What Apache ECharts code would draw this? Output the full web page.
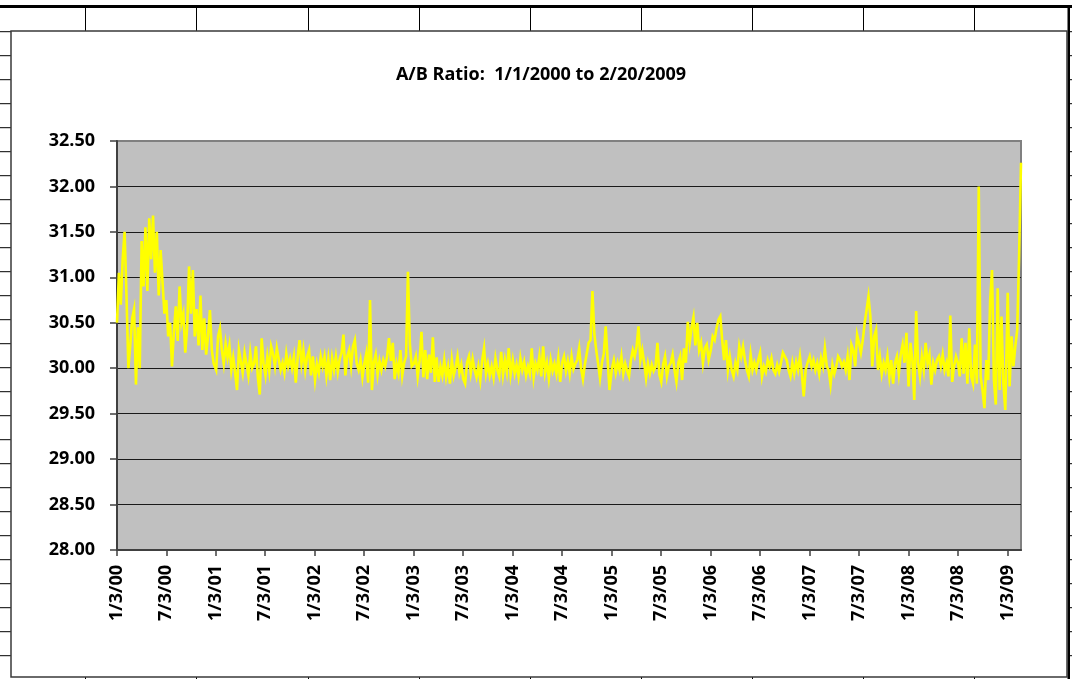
<!DOCTYPE html>
<html>
<head>
<meta charset="utf-8">
<title>A/B Ratio</title>
<script src="https://cdn.jsdelivr.net/npm/echarts@6/dist/echarts.min.js"></script>
<style>
  html, body { margin: 0; padding: 0; background: #fff; }
  #chart { width: 1072px; height: 679px; }
</style>
</head>
<body>
<div id="chart"></div>
<script>
// A/B ratio, one value per week (first value = Jan 3 of each year)
const ratio2000 = [30.50, 31.05, 30.70, 31.20, 31.50, 30.80, 30.00, 30.25, 30.55, 30.65,
  29.82, 30.45, 30.00, 31.40, 30.90, 31.55, 30.85, 31.65, 31.20, 31.68,
  31.05, 31.50, 30.80, 31.30, 30.95, 30.60, 30.75, 30.35, 30.50, 30.02,
  30.40, 30.68, 30.30, 30.90, 30.50, 30.60, 30.17, 30.45, 31.12, 30.60,
  31.08, 30.35, 30.65, 30.25, 30.80, 30.20, 30.55, 30.15, 30.35, 30.64,
  30.20, 30.05];
const ratio2001 = [29.98, 30.35, 30.44, 30.20, 30.05, 30.27, 30.12, 30.25, 29.98, 30.12,
  29.95, 29.76, 30.20, 30.18, 29.95, 30.17, 30.05, 29.92, 30.17, 30.00,
  30.05, 30.24, 29.90, 29.71, 30.33, 30.05, 29.92, 30.13, 29.97, 30.24,
  30.16, 30.02, 30.22, 30.10, 29.98, 30.06, 29.95, 30.16, 30.02, 30.11,
  30.00, 30.13, 29.84, 30.12, 30.31, 30.05, 30.20, 29.98, 30.13, 30.20,
  29.92, 30.13];
const ratio2002 = [29.87, 30.05, 29.95, 30.13, 30.02, 30.13, 29.92, 30.10, 29.87, 30.11,
  29.98, 30.13, 29.96, 30.10, 30.17, 30.37, 29.92, 30.13, 30.20, 30.02,
  30.24, 30.31, 30.05, 29.98, 30.09, 29.90, 30.05, 30.16, 29.84, 30.75,
  29.76, 30.06, 30.15, 29.93, 30.08, 29.98, 30.09, 30.02, 30.13, 30.33,
  30.08, 30.28, 29.88, 30.05, 29.95, 30.20, 29.92, 30.06, 30.13, 31.06,
  30.27, 30.02];
const ratio2003 = [30.05, 30.13, 29.91, 30.08, 30.40, 29.90, 30.20, 29.88, 30.15, 29.95,
  30.34, 29.85, 30.12, 29.85, 30.02, 29.92, 30.09, 29.90, 30.02, 29.83,
  30.09, 29.92, 30.01, 30.13, 29.95, 30.04, 29.88, 29.83, 30.06, 30.13,
  29.95, 30.10, 29.98, 29.90, 30.02, 29.87, 30.09, 30.22, 29.94, 30.05,
  29.92, 30.02, 29.90, 30.11, 29.98, 29.91, 30.18, 29.93, 30.09, 29.96,
  30.22, 29.93];
const ratio2004 = [30.09, 29.94, 30.04, 29.91, 30.11, 29.98, 30.07, 29.92, 30.02, 29.94,
  30.22, 29.90, 30.05, 29.98, 30.13, 29.91, 30.24, 29.95, 30.06, 29.89,
  30.09, 29.97, 30.05, 29.94, 30.11, 29.85, 30.06, 30.13, 29.97, 30.08,
  29.94, 30.13, 29.99, 30.05, 30.09, 30.22, 30.00, 29.88, 30.04, 30.06,
  30.28, 30.31, 30.85, 30.38, 30.20, 30.05, 29.89, 30.06, 30.16, 30.46,
  30.10, 29.76];
const ratio2005 = [30.00, 30.09, 29.95, 30.06, 29.98, 30.13, 29.94, 30.05, 29.97, 29.91,
  30.09, 30.20, 30.13, 30.24, 30.46, 30.09, 30.20, 30.06, 29.89, 30.05,
  29.94, 30.04, 29.97, 30.02, 30.28, 29.93, 29.85, 30.04, 30.13, 29.91,
  30.02, 30.06, 30.15, 29.98, 29.85, 30.06, 30.13, 29.87, 30.22, 30.06,
  30.51, 30.28, 30.45, 30.56, 30.25, 30.50, 30.20, 30.28, 30.06, 30.22,
  30.26, 30.09];
const ratio2006 = [30.20, 30.35, 30.31, 30.44, 30.53, 30.57, 30.31, 30.09, 30.31, 29.98,
  30.13, 29.98, 29.91, 30.06, 29.98, 30.24, 30.13, 30.24, 30.09, 29.98,
  29.91, 30.15, 29.98, 30.06, 29.98, 30.09, 30.17, 29.91, 30.02, 29.96,
  30.09, 30.02, 30.11, 29.98, 29.94, 30.04, 29.96, 30.06, 30.17, 30.18,
  30.09, 29.98, 29.91, 30.06, 29.94, 30.07, 29.98, 30.13, 29.94, 29.69,
  29.98, 30.06];
const ratio2007 = [30.13, 30.02, 30.09, 29.98, 30.06, 29.94, 30.11, 30.02, 30.22, 30.02,
  29.98, 29.82, 30.04, 29.94, 30.02, 30.13, 30.09, 30.02, 30.07, 29.98,
  30.13, 29.87, 30.26, 30.20, 30.02, 30.37, 30.28, 30.17, 30.31, 30.50,
  30.64, 30.79, 30.57, 30.02, 30.35, 30.42, 29.98, 30.13, 29.94, 30.06,
  29.98, 30.13, 29.91, 30.09, 29.83, 30.06, 30.13, 29.94, 30.15, 30.26,
  30.06, 30.39];
const ratio2008 = [29.80, 30.28, 30.09, 29.65, 30.63, 30.06, 29.91, 30.13, 29.98, 30.28,
  30.06, 30.15, 29.82, 30.06, 29.98, 30.09, 30.13, 30.02, 30.15, 29.98,
  30.06, 29.91, 30.58, 29.85, 30.02, 30.13, 30.06, 29.91, 30.33, 29.94,
  30.28, 29.83, 30.44, 29.91, 29.83, 30.26, 29.83, 32.00, 29.91, 29.76,
  29.56, 30.09, 29.87, 30.74, 31.08, 29.87, 29.60, 30.88, 29.76, 30.57,
  29.83, 29.54];
const ratio2009 = [30.83, 29.80, 30.35, 30.02, 30.24, 30.42, 31.23, 32.26];

const tickDates = ['2000-01-03', '2000-07-03', '2001-01-03', '2001-07-03', '2002-01-03',
  '2002-07-03', '2003-01-03', '2003-07-03', '2004-01-03', '2004-07-03', '2005-01-03',
  '2005-07-03', '2006-01-03', '2006-07-03', '2007-01-03', '2007-07-03', '2008-01-03',
  '2008-07-03', '2009-01-03'];
const yTicks = [28, 28.5, 29, 29.5, 30, 30.5, 31, 31.5, 32, 32.5];

const DAY = 86400000;
const START = Date.parse('2000-01-03');
const END = Date.parse('2009-02-21');
const dayOf = ts => Math.round((ts - START) / DAY);

const years = [
  [2000, ratio2000], [2001, ratio2001], [2002, ratio2002], [2003, ratio2003],
  [2004, ratio2004], [2005, ratio2005], [2006, ratio2006], [2007, ratio2007],
  [2008, ratio2008], [2009, ratio2009]
];
// x = days since 1/3/2000
const points = [];
years.forEach(([yr, vals]) => {
  vals.forEach((v, i) => points.push([dayOf(Date.UTC(yr, 0, 3 + 7 * i)), v]));
});
const tickDays = tickDates.map(d => dayOf(Date.parse(d)));

function fmtDay(n) {
  const d = new Date(START + n * DAY);
  return (d.getUTCMonth() + 1) + '/' + d.getUTCDate() + '/' + String(d.getUTCFullYear()).slice(2);
}

const FONT = '"Open Sans", "Liberation Sans", sans-serif';

// spreadsheet cells behind the chart object
const colXs = [85, 196, 308, 419, 530, 641, 752, 863, 974];
const rowYs = [];
for (let k = 0; k <= 27; k++) rowYs.push(31.7 + 24 * k);
const sheet = [];
sheet.push({ type: 'rect', shape: { x: 0, y: 5, width: 1072, height: 3 }, style: { fill: '#000' } });
sheet.push({ type: 'rect', shape: { x: 1067.5, y: 5, width: 2.5, height: 674 }, style: { fill: '#000' } });
colXs.forEach(x => {
  sheet.push({ type: 'line', shape: { x1: x + 0.5, y1: 8, x2: x + 0.5, y2: 31 }, style: { stroke: '#000', lineWidth: 1 } });
  sheet.push({ type: 'line', shape: { x1: x + 0.5, y1: 677, x2: x + 0.5, y2: 679 }, style: { stroke: '#000', lineWidth: 1 } });
});
rowYs.forEach(y => {
  sheet.push({ type: 'line', shape: { x1: 0, y1: y, x2: 11, y2: y }, style: { stroke: '#000', lineWidth: 1 } });
  sheet.push({ type: 'line', shape: { x1: 1069, y1: y, x2: 1072, y2: y }, style: { stroke: '#000', lineWidth: 1 } });
});
sheet.push({ type: 'rect', shape: { x: 11, y: 31, width: 1056, height: 646 },
  style: { fill: 'none', stroke: '#3a3a3a', lineWidth: 1.5 } });

const chart = echarts.init(document.getElementById('chart'));
chart.setOption({
  animation: false,
  backgroundColor: '#fff',
  title: {
    text: 'A/B Ratio:  1/1/2000 to 2/20/2009',
    left: 536,
    top: 61,
    textAlign: 'center',
    textStyle: { fontFamily: FONT, fontWeight: 'bold', fontSize: 18, color: '#000' }
  },
  graphic: sheet,
  grid: {
    left: 117, top: 141, right: 51, bottom: 129,
    show: true,
    backgroundColor: '#c0c0c0',
    borderColor: '#808080',
    borderWidth: 2
  },
  xAxis: {
    type: 'value',
    min: 0,
    max: dayOf(END),
    axisLine: { lineStyle: { color: '#404040', width: 2 } },
    axisTick: { customValues: tickDays, length: 6, lineStyle: { color: '#404040', width: 1.5 } },
    axisLabel: {
      customValues: tickDays,
      rotate: 90,
      margin: 15,
      formatter: fmtDay,
      fontFamily: FONT, fontWeight: 'bold', fontSize: 18, color: '#000'
    },
    splitLine: { show: false }
  },
  yAxis: {
    type: 'value',
    min: 28,
    max: 32.5,
    interval: 0.5,
    axisLine: { show: true, lineStyle: { color: '#404040', width: 2 } },
    axisTick: { show: true, length: 7, lineStyle: { color: '#404040', width: 1.5 } },
    axisLabel: {
      margin: 22,
      formatter: v => v.toFixed(2),
      fontFamily: FONT, fontWeight: 'bold', fontSize: 18, color: '#000'
    },
    splitLine: {
      lineStyle: {
        color: yTicks.map((t, i) => i === yTicks.length - 1 ? '#808080' : '#1a1a1a'),
        width: 1
      }
    }
  },
  series: [{
    name: 'A/B Ratio',
    type: 'line',
    data: points,
    showSymbol: false,
    symbol: 'none',
    lineStyle: { color: '#ffff00', width: 2.6, join: 'miter' }
  }]
});
</script>
</body>
</html>
